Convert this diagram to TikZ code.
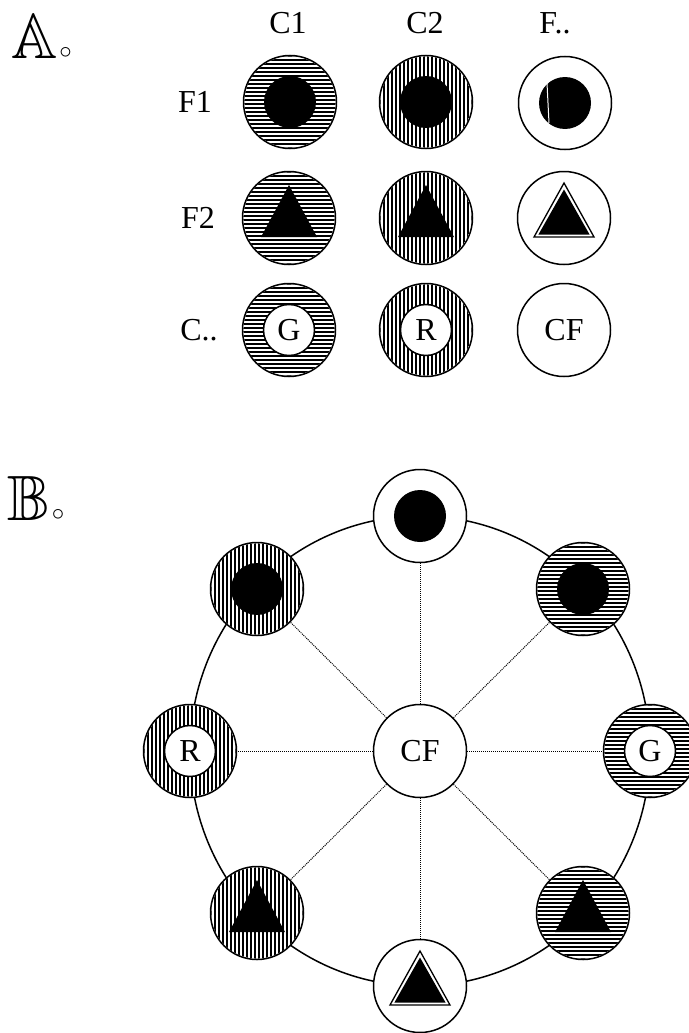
\documentclass[tikz,border=0pt]{standalone}
\usepackage{fontspec}
\setmainfont{Liberation Serif}
\usepackage{amssymb}
\tikzset{
  soltri/.pic={\fill[black] (0,-33) -- (28,19) -- (-28,19) -- cycle;},
  outtri/.pic={\draw[line width=1.3pt,line join=miter] (0,-35) -- (30,19) -- (-30,19) -- cycle;
               \fill[black] (0,-28.5) -- (25.6,16.6) -- (-25.6,16.6) -- cycle;}
}
\newcommand\hhatch[1]{\begin{scope}[shift={(#1.center)}]\clip (0,0) circle (45.6);
  \foreach \k in {-46,-42,...,46} \draw[line width=1.9pt] (-47,\k) -- (47,\k);\end{scope}}
\newcommand\vhatch[1]{\begin{scope}[shift={(#1.center)}]\clip (0,0) circle (45.6);
  \foreach \k in {-46,-42,...,46} \draw[line width=1.9pt] (\k,-47) -- (\k,47);\end{scope}}
\begin{document}
\begin{tikzpicture}[x=1pt,y=-1pt,
  ring/.style={circle,draw,fill=white,line width=1.5pt,minimum size=93pt,inner sep=0pt},
  wring/.style={ring,font=\fontsize{32}{36}\selectfont},
  letter/.style={circle,draw,fill=white,line width=1.5pt,minimum size=51pt,inner sep=0pt,font=\fontsize{32}{36}\selectfont},
  dot/.style={circle,fill=black,minimum size=52pt,inner sep=0pt},
  lbl/.style={font=\fontsize{32}{36}\selectfont,inner sep=0pt},
  big/.style={inner sep=0pt,anchor=base west},
  spoke/.style={densely dotted,line width=1pt},
  rim/.style={line width=1.5pt}
]
\useasboundingbox (0,0) rectangle (688,1033);
% ---------- Part A ----------
\node[big] (labA) at (11,59) {\scalebox{6.4}{$\mathbb{A}$}\hspace{2pt}{\fontsize{24.88}{26}\selectfont$\circ$}};
\node[lbl] (hC1) at (288,23) {C1};
\node[lbl] (hC2) at (425,23) {C2};
\node[lbl] (hF)  at (555,23) {F..};
\node[lbl] (rF1) at (195,102) {F1};
\node[lbl] (rF2) at (198,218) {F2};
\node[lbl] (rC)  at (199,330) {C..};

\node[ring] (a11) at (290,102) {};
\hhatch{a11}
\node[dot] (a11d) at (a11) {};
\node[ring] (a12) at (426,102) {};
\vhatch{a12}
\node[dot] (a12d) at (a12) {};
\node[wring] (a13) at (565,103) {};
\node[dot] (a13d) at (a13) {};
\draw[white,line width=1pt] ([xshift=-16pt,yshift=-20pt]a13d.center) -- ([xshift=-18pt,yshift=20pt]a13d.center);

\node[ring] (a21) at (289,218) {};
\hhatch{a21}
\pic at (a21) {soltri};
\node[ring] (a22) at (426,218) {};
\vhatch{a22}
\pic at (a22) {soltri};
\node[wring] (a23) at (564,218) {};
\pic at (a23) {outtri};

\node[ring] (a31) at (289,330) {};
\hhatch{a31}
\node[letter] (a31l) at (a31) {G};
\node[ring] (a32) at (426,330) {};
\vhatch{a32}
\node[letter] (a32l) at (a32) {R};
\node[wring] (a33) at (564,330) {CF};

% ---------- Part B ----------
\node[big] (labB) at (7,520) {\scalebox{6.4}{$\mathbb{B}$}\hspace{2pt}{\fontsize{24.88}{26}\selectfont$\circ$}};
\coordinate (ctr) at (420,751);
\draw[rim] (ctr) ellipse [x radius=230, y radius=235];

\node[wring] (cf) at (ctr) {CF};
\node[wring] (bt)  at (420,516) {};
\node[ring] (btr) at (583,589) {};
\node[ring] (bg)  at (650,751) {};
\node[ring] (bbr) at (583,913) {};
\node[wring] (bb)  at (420,986) {};
\node[ring] (bbl) at (257,913) {};
\node[ring] (br)  at (190,751) {};
\node[ring] (btl) at (257,589) {};
\hhatch{btr}
\hhatch{bg}
\hhatch{bbr}
\vhatch{bbl}
\vhatch{br}
\vhatch{btl}

\node[dot] (btd) at (bt) {};
\node[dot] (btrd) at (btr) {};
\node[dot] (btld) at (btl) {};
\node[letter] (bgl) at (bg) {G};
\node[letter] (brl) at (br) {R};
\pic at (bbr) {soltri};
\pic at (bbl) {soltri};
\pic at (bb) {outtri};

\foreach \n in {bt,btr,bg,bbr,bb,bbl,br,btl}
  \draw[spoke] (cf) -- (\n);
\end{tikzpicture}
\end{document}
